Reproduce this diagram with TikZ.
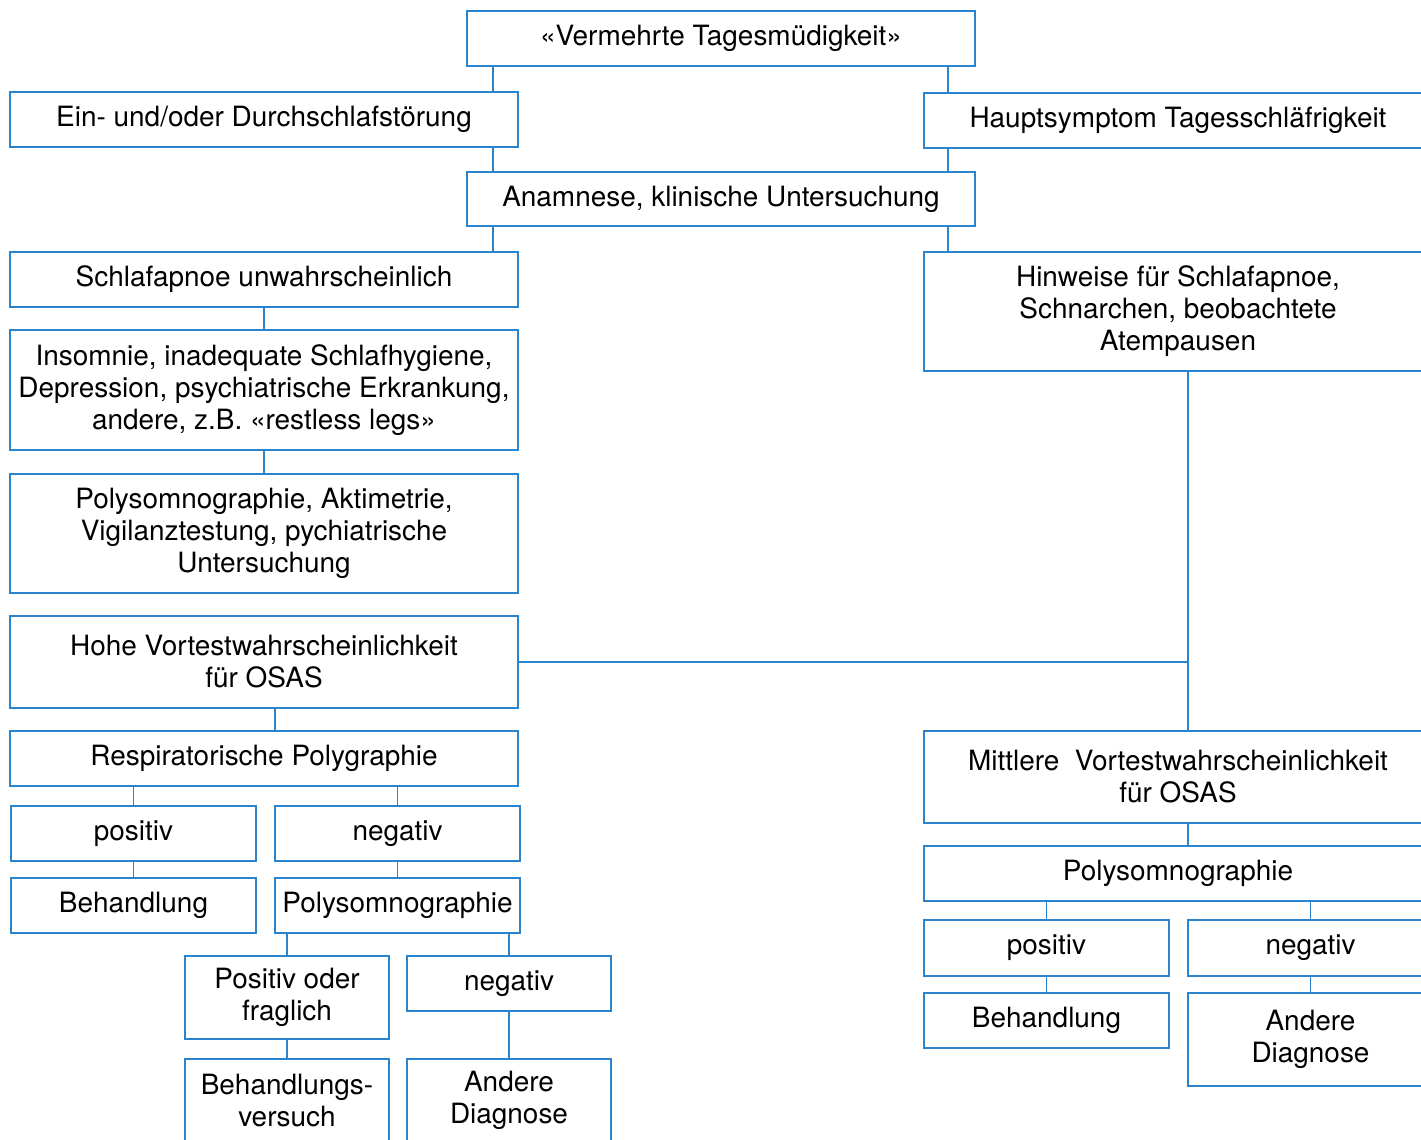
\documentclass[tikz,border=0pt]{standalone}
\usepackage{fontspec}
\setmainfont{TeX Gyre Heros}
\usepackage{xcolor}
\usepackage{tikz}
\usetikzlibrary{positioning,calc}

\definecolor{osblue}{RGB}{42,132,206}

\begin{document}
\begin{tikzpicture}[
  x=0.02cm, y=-0.02cm,
  box/.style={draw=osblue, line width=1.1pt, inner sep=0pt, align=center,
              font=\fontsize{15.9}{18.2}\selectfont, text=black},
  wide/.style={box, minimum width=10.16cm},
  half/.style={box, minimum width=4.9cm},
  small/.style={box, minimum width=4.08cm},
  link/.style={draw=osblue, line width=1.1pt}
]
  \useasboundingbox (0,0) rectangle (1421,1140);
  \clip (0,0) rectangle (1421,1140);

  % Top and first split
  \node[wide, minimum height=1.1cm] (tired) at (721,38.5) {«Vermehrte Tagesmüdigkeit»};
  \node[wide, minimum height=1.1cm] (insleep) at (264,119.5) {Ein- und/oder Durchschlafstörung};
  \node[wide, minimum height=1.1cm] (sleepy) at (1178,120.5) {Hauptsymptom Tagesschläfrigkeit};
  \node[wide, minimum height=1.08cm] (anamn) at (721,199) {Anamnese, klinische Untersuchung};

  % Left branch
  \node[wide, minimum height=1.1cm] (unlikely) at (264,279.5) {Schlafapnoe unwahrscheinlich};
  \node[wide, minimum height=2.4cm] (insom) at (264,390) {Insomnie, inadequate Schlafhygiene,\\Depression, psychiatrische Erkrankung,\\andere, z.B. «restless legs»};
  \node[wide, minimum height=2.38cm] (psgact) at (264,533.5) {Polysomnographie, Aktimetrie,\\Vigilanztestung, pychiatrische\\Untersuchung};

  % Right branch
  \node[wide, minimum height=2.38cm] (hints) at (1178,311.5) {Hinweise für Schlafapnoe,\\Schnarchen, beobachtete\\Atempausen};

  % High pretest probability
  \node[wide, minimum height=1.84cm] (high) at (264,662) {Hohe Vortestwahrscheinlichkeit\\für OSAS};
  \node[wide, minimum height=1.1cm] (resp) at (264,758.5) {Respiratorische Polygraphie};
  \node[half, minimum height=1.1cm] (pos1) at (133.5,833.5) {positiv};
  \node[half, minimum height=1.1cm] (neg1) at (397.5,833.5) {negativ};
  \node[half, minimum height=1.1cm] (treat1) at (133.5,905.5) {Behandlung};
  \node[half, minimum height=1.1cm] (psg1) at (397.5,905.5) {Polysomnographie};
  \node[small, minimum height=1.66cm] (posq) at (287,997.5) {Positiv oder\\fraglich};
  \node[small, minimum height=1.1cm] (neg2) at (509,983.5) {negativ};
  \node[small, minimum height=1.66cm] (trial) at (287,1100.5) {Behandlungs-\\versuch};
  \node[small, minimum height=1.66cm] (other1) at (509,1100.5) {Andere\\Diagnose};

  % Medium pretest probability
  \node[wide, minimum height=1.84cm] (medium) at (1178,777) {Mittlere\ \ Vortestwahrscheinlichkeit\\für OSAS};
  \node[wide, minimum height=1.1cm] (psg2) at (1178,873.5) {Polysomnographie};
  \node[half, minimum height=1.12cm] (pos2) at (1046.5,948) {positiv};
  \node[half, minimum height=1.12cm] (neg3) at (1310.5,948) {negativ};
  \node[half, minimum height=1.1cm] (treat2) at (1046.5,1020.5) {Behandlung};
  \node[half, minimum height=1.86cm] (other2) at (1310.5,1039.5) {Andere\\Diagnose};

  % connectors
  \draw[link] ([xshift=0.54cm]tired.south west) coordinate (t1) -- (t1 |- insleep.north);
  \draw[link] ([xshift=-0.56cm]tired.south east) coordinate (t2) -- (t2 |- sleepy.north);
  \draw[link] ([xshift=0.54cm]anamn.north west) coordinate (a1) -- (a1 |- insleep.south);
  \draw[link] ([xshift=-0.56cm]anamn.north east) coordinate (a2) -- (a2 |- sleepy.south);
  \draw[link] ([xshift=0.54cm]anamn.south west) coordinate (a3) -- (a3 |- unlikely.north);
  \draw[link] ([xshift=-0.56cm]anamn.south east) coordinate (a4) -- (a4 |- hints.north);
  \draw[link] (unlikely) -- (insom);
  \draw[link] (insom) -- (psgact);
  \draw[link] ([xshift=0.2cm]hints.south) coordinate (h1) -- (h1 |- medium.north);
  \draw[link] (high.east) -- (high.east -| h1);
  \draw[link] ([xshift=0.22cm]high.south) coordinate (h2) -- (h2 |- resp.north);
  \draw[link] (pos1.north) -- (pos1.north |- resp.south);
  \draw[link] (neg1.north) -- (neg1.north |- resp.south);
  \draw[link] (pos1) -- (treat1);
  \draw[link] (neg1) -- (psg1);
  \draw[link] (posq.north) -- (posq.north |- psg1.south);
  \draw[link] (neg2.north) -- (neg2.north |- psg1.south);
  \draw[link] (posq) -- (trial);
  \draw[link] (neg2) -- (other1);
  \draw[link] ([xshift=0.2cm]medium.south) coordinate (m1) -- (m1 |- psg2.north);
  \draw[link] (pos2.north) -- (pos2.north |- psg2.south);
  \draw[link] (neg3.north) -- (neg3.north |- psg2.south);
  \draw[link] (pos2) -- (treat2);
  \draw[link] (neg3.south) -- (neg3.south |- other2.north);
\end{tikzpicture}
\end{document}
